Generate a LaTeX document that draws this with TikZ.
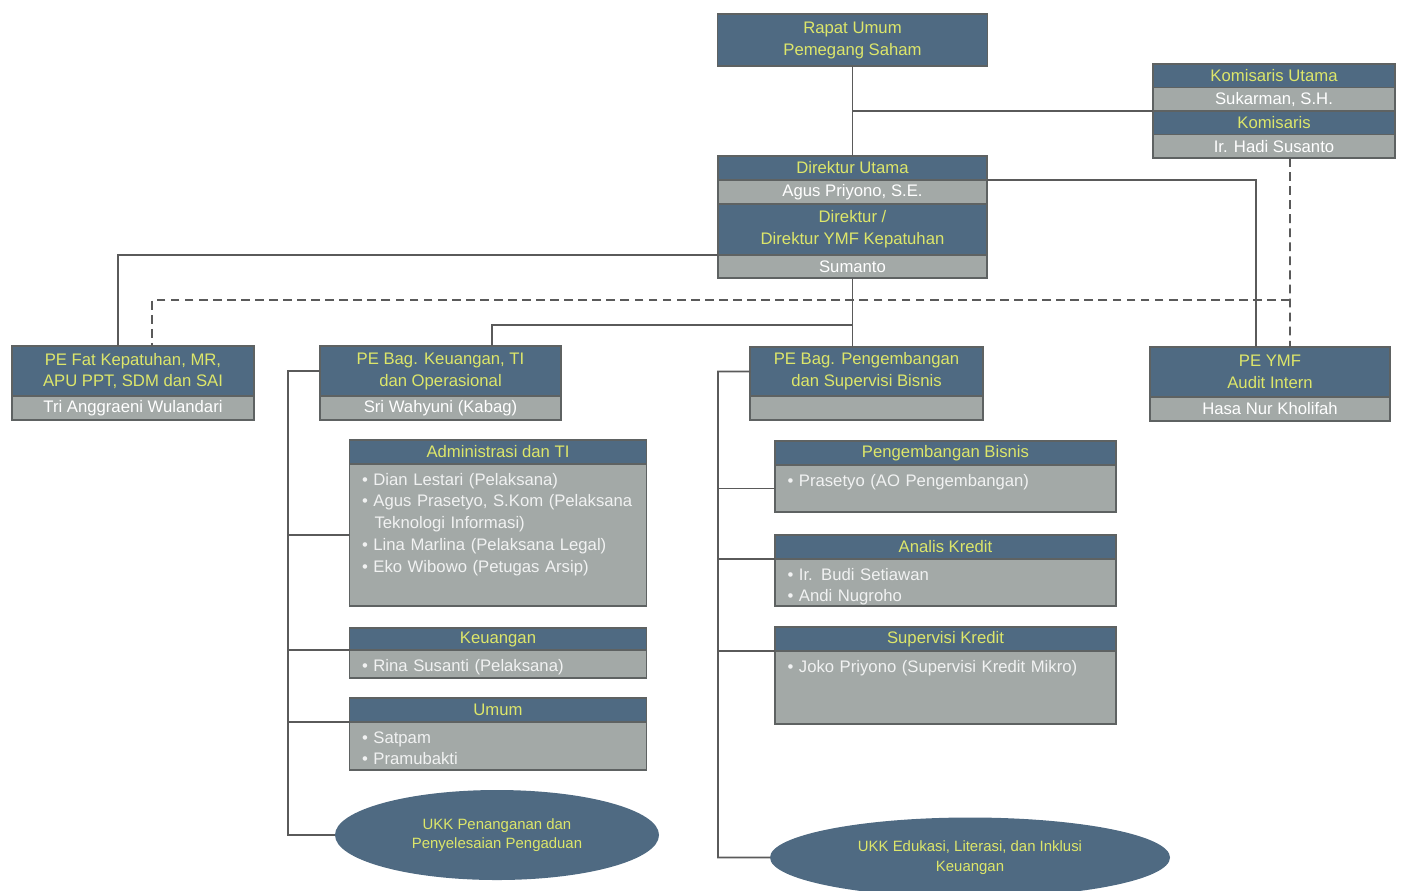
\documentclass[tikz,border=0pt]{standalone}
\usepackage{fontspec}
\setmainfont{Liberation Sans}
\usetikzlibrary{positioning,shapes.geometric}
\definecolor{boxblue}{HTML}{4F6A82}
\definecolor{boxgray}{HTML}{A3A9A7}
\definecolor{boxline}{HTML}{5E6262}
\definecolor{headtext}{HTML}{DDE66A}
\definecolor{linegray}{HTML}{5A5A5A}

\begin{document}
\begin{tikzpicture}
\tikzstyle{every node}=[font=\fontsize{9.5}{12.5}\selectfont, inner sep=0pt, outer sep=0pt]
\tikzstyle{rowhead}=[draw=boxline, line width=1pt, fill=boxblue, text=headtext, align=center, anchor=north]
\tikzstyle{rowname}=[draw=boxline, line width=1pt, fill=boxgray, text=white, align=center, anchor=north]
\tikzstyle{rowbody}=[draw=boxline, line width=1pt, fill=boxgray, text=white!85!boxgray, align=left, anchor=north, inner xsep=0.25cm, inner ysep=0.1cm, text height=0.32cm]
\tikzstyle{unitoval}=[ellipse, fill=boxblue, text=headtext, align=center, font=\fontsize{8.5}{11}\selectfont]
\tikzstyle{cmdline}=[draw=linegray, line width=1pt]
\useasboundingbox (0,0) rectangle (28.04,-17.8);

% rapat umum dan komisaris
\node[rowhead, minimum width=5.4cm, minimum height=1.04cm] (rups) at (17.05,-0.28) {Rapat Umum\\Pemegang Saham};
\node[rowhead, minimum width=4.84cm, minimum height=0.47cm] (komut) at (25.48,-1.28) {Komisaris Utama};
\node[rowname, minimum width=4.84cm, minimum height=0.47cm, below=0pt of komut] (komutnama) {Sukarman, S.H.};
\node[rowhead, minimum width=4.84cm, minimum height=0.47cm, below=0pt of komutnama] (kom) {Komisaris};
\node[rowname, minimum width=4.84cm, minimum height=0.47cm, below=0pt of kom] (komnama) {Ir. Hadi Susanto};

% direksi
\node[rowhead, minimum width=5.38cm, minimum height=0.48cm] (dirut) at (17.05,-3.12) {Direktur Utama};
\node[rowname, minimum width=5.38cm, minimum height=0.48cm, below=0pt of dirut] (dirutnama) {Agus Priyono, S.E.};
\node[rowhead, minimum width=5.38cm, minimum height=1.02cm, below=0pt of dirutnama] (dir) {Direktur /\\Direktur YMF Kepatuhan};
\node[rowname, minimum width=5.38cm, minimum height=0.46cm, below=0pt of dir] (dirnama) {Sumanto};

% pejabat eksekutif
\node[rowhead, minimum width=4.84cm, minimum height=1.0cm] (pefat) at (2.66,-6.92) {PE Fat Kepatuhan, MR,\\APU PPT, SDM dan SAI};
\node[rowname, minimum width=4.84cm, minimum height=0.48cm, below=0pt of pefat] (pefatnama) {Tri Anggraeni Wulandari};
\node[rowhead, minimum width=4.82cm, minimum height=1.0cm] (pekeu) at (8.81,-6.92) {PE Bag. Keuangan, TI\\dan Operasional};
\node[rowname, minimum width=4.82cm, minimum height=0.48cm, below=0pt of pekeu] (pekeunama) {Sri Wahyuni (Kabag)};
\node[rowhead, minimum width=4.66cm, minimum height=0.98cm] (pepeng) at (17.33,-6.94) {PE Bag. Pengembangan\\dan Supervisi Bisnis};
\node[rowname, minimum width=4.66cm, minimum height=0.48cm, below=0pt of pepeng] (pepengnama) {};
\node[rowhead, minimum width=4.8cm, minimum height=1.0cm] (ymf) at (25.4,-6.94) {PE YMF\\Audit Intern};
\node[rowname, minimum width=4.8cm, minimum height=0.48cm, below=0pt of ymf] (ymfnama) {Hasa Nur Kholifah};

% bagian keuangan, TI dan operasional
\node[rowhead, minimum width=5.94cm, minimum height=0.48cm] (admhead) at (9.96,-8.8) {Administrasi dan TI};
\node[rowbody, text width=5.44cm, text depth=2.32cm, below=0pt of admhead] (admbody) {%
• Dian Lestari (Pelaksana)\\
• Agus Prasetyo, S.Kom (Pelaksana\\
\hspace*{0.25cm}Teknologi Informasi)\\
• Lina Marlina (Pelaksana Legal)\\
• Eko Wibowo (Petugas Arsip)};
\node[rowhead, minimum width=5.94cm, minimum height=0.44cm] (keuhead) at (9.96,-12.56) {Keuangan};
\node[rowbody, text width=5.44cm, text depth=0.04cm, below=0pt of keuhead] (keubody) {• Rina Susanti (Pelaksana)};
\node[rowhead, minimum width=5.94cm, minimum height=0.48cm] (umhead) at (9.96,-13.96) {Umum};
\node[rowbody, text width=5.44cm, text depth=0.44cm, below=0pt of umhead] (umbody) {• Satpam\\• Pramubakti};
\node[unitoval, minimum width=6.48cm, minimum height=1.8cm] (ukk1) at (9.94,-16.7) {UKK Penanganan dan\\Penyelesaian Pengaduan};

% bagian pengembangan dan supervisi bisnis
\node[rowhead, minimum width=6.82cm, minimum height=0.48cm] (pbhead) at (18.91,-8.82) {Pengembangan Bisnis};
\node[rowbody, text width=6.32cm, text depth=0.42cm, below=0pt of pbhead] (pbbody) {• Prasetyo (AO Pengembangan)};
\node[rowhead, minimum width=6.82cm, minimum height=0.48cm] (akhead) at (18.91,-10.7) {Analis Kredit};
\node[rowbody, text width=6.32cm, text depth=0.42cm, below=0pt of akhead] (akbody) {• Ir. Budi Setiawan\\• Andi Nugroho};
\node[rowhead, minimum width=6.82cm, minimum height=0.48cm] (skhead) at (18.91,-12.54) {Supervisi Kredit};
\node[rowbody, text width=6.32cm, text depth=0.94cm, below=0pt of skhead] (skbody) {• Joko Priyono (Supervisi Kredit Mikro)};
\node[unitoval, minimum width=8.0cm, minimum height=1.6cm] (ukk2) at (19.4,-17.15) {UKK Edukasi, Literasi, dan Inklusi\\Keuangan};

% garis komando
\coordinate (opsrow) at (0,-6.5);
\coordinate (dashjoin) at (25.8,-6.0);
\coordinate (keubus) at (5.76,-7.42);
\coordinate (pengbus) at (14.36,-7.43);
\draw[cmdline] (rups.south) -- (dirut.north);
\draw[cmdline] (rups.south |- komutnama.south west) -- (komutnama.south west);
\draw[cmdline] (dirut.south east) -| ([xshift=-0.28cm]ymf.north);
\draw[cmdline] (dir.south west) -| ([xshift=-0.3cm]pefat.north);
\draw[cmdline] (dirnama.south) -- (dirnama.south |- pepeng.north);
\draw[cmdline] (dirnama.south |- opsrow) -| ([xshift=1.03cm]pekeu.north);
\draw[cmdline, dash pattern=on 5pt off 3pt] ([xshift=0.32cm]komnama.south) -- (dashjoin) -- ([xshift=0.4cm]ymf.north);
\draw[cmdline, dash pattern=on 5pt off 3pt] (dashjoin) -| ([xshift=0.38cm]pefat.north);
\draw[cmdline] (pekeu.west) -- (keubus) |- (ukk1.west);
\draw[cmdline] (admbody.west -| keubus) -- (admbody.west);
\draw[cmdline] (keuhead.south west -| keubus) -- (keuhead.south west);
\draw[cmdline] (umhead.south west -| keubus) -- (umhead.south west);
\draw[cmdline] (pepeng.west) -- (pengbus) |- (ukk2.west);
\draw[cmdline] (pbbody.west -| pengbus) -- (pbbody.west);
\draw[cmdline] (akhead.south west -| pengbus) -- (akhead.south west);
\draw[cmdline] (skhead.south west -| pengbus) -- (skhead.south west);
\end{tikzpicture}
\end{document}
